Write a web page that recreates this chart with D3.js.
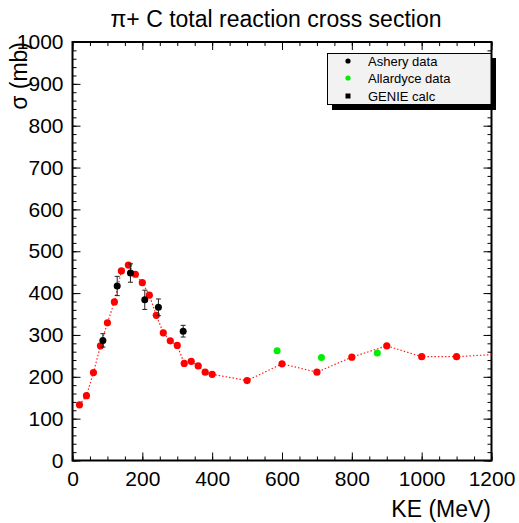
<!DOCTYPE html>
<html>
<head>
<meta charset="utf-8">
<script src="https://cdn.jsdelivr.net/npm/d3@7"></script>
<style>
  html, body { margin: 0; padding: 0; background: #fff; }
  svg { display: block; }
  text { font-family: "Liberation Sans", Arial, Helvetica, sans-serif; }
</style>
</head>
<body>
<svg id="chart" width="519" height="523"></svg>
<script>
// ---- data ----
const genieKE = [20, 40, 60, 80, 100, 120, 140, 160, 180, 200, 220, 240, 260, 280, 300, 320, 340, 360, 380, 400, 500, 600, 700, 800, 900, 1000, 1100, 1300];
const genieSigma = [133, 155, 210, 274, 329, 379, 453, 467, 445, 425, 395, 347, 305, 286, 275, 232, 237, 226, 211, 206, 191, 231, 211, 247, 274, 248, 248, 258];
const asheryKE = [87, 128, 166, 207, 246, 317];
const asherySigma = [287, 417, 448, 384, 366, 309];
const asheryErr = [16, 23, 22, 23, 20, 14];
const allardyceKE = [586, 713, 873];
const allardyceSigma = [262, 246, 257];
const xTicks = [0, 200, 400, 600, 800, 1000, 1200];
const yTicks = [0, 100, 200, 300, 400, 500, 600, 700, 800, 900, 1000];
const legendLabels = ["Ashery data", "Allardyce data", "GENIE calc"];
const titleText = "\u03c0+ C total reaction cross section";
const xTitle = "KE (MeV)";
const yTitle = "\u03c3 (mb)";

// ---- layout ----
const svg = d3.select("#chart");
const L = 72.5, R = 491.5, T = 42, B = 460.5;
const x = d3.scaleLinear().domain([0, 1200]).range([L, R]);
const y = d3.scaleLinear().domain([0, 1000]).range([B, T]);

svg.append("rect").attr("width", 519).attr("height", 523).attr("fill", "#fff");

svg.append("defs").append("clipPath").attr("id", "clip")
  .append("rect").attr("x", L).attr("y", T).attr("width", R - L).attr("height", B - T);

const fontTick = 21;

function styleAxis(g, hideLabels) {
  g.select(".domain").remove();
  g.selectAll(".tick line").attr("stroke", "#000").attr("stroke-width", 1);
  g.selectAll(".tick text").attr("fill", "#000").style("font-size", fontTick + "px");
  if (hideLabels) g.selectAll(".tick text").remove();
}

// minor ticks
const xMinor = d3.range(0, 1201, 50);
const yMinor = d3.range(0, 1001, 20);
svg.append("g").attr("transform", `translate(0,${B})`)
  .call(d3.axisBottom(x).tickValues(xMinor).tickSize(-4).tickSizeOuter(0))
  .call(g => styleAxis(g, true));
svg.append("g").attr("transform", `translate(0,${T})`)
  .call(d3.axisTop(x).tickValues(xMinor).tickSize(-4).tickSizeOuter(0))
  .call(g => styleAxis(g, true));
svg.append("g").attr("transform", `translate(${L},0)`)
  .call(d3.axisLeft(y).tickValues(yMinor).tickSize(-4).tickSizeOuter(0))
  .call(g => styleAxis(g, true));
svg.append("g").attr("transform", `translate(${R},0)`)
  .call(d3.axisRight(y).tickValues(yMinor).tickSize(-4).tickSizeOuter(0))
  .call(g => styleAxis(g, true));

// major ticks
svg.append("g").attr("transform", `translate(0,${B})`)
  .call(d3.axisBottom(x).tickValues(xTicks).tickSize(-8).tickSizeOuter(0).tickPadding(11).tickFormat(d3.format("d")))
  .call(g => styleAxis(g, false));
svg.append("g").attr("transform", `translate(0,${T})`)
  .call(d3.axisTop(x).tickValues(xTicks).tickSize(-8).tickSizeOuter(0))
  .call(g => styleAxis(g, true));
svg.append("g").attr("transform", `translate(${L},0)`)
  .call(d3.axisLeft(y).tickValues(yTicks).tickSize(-8).tickSizeOuter(0).tickPadding(9).tickFormat(d3.format("d")))
  .call(g => styleAxis(g, false));
svg.append("g").attr("transform", `translate(${R},0)`)
  .call(d3.axisRight(y).tickValues(yTicks).tickSize(-8).tickSizeOuter(0))
  .call(g => styleAxis(g, true));

// frame
svg.append("rect").attr("x", L).attr("y", T).attr("width", R - L).attr("height", B - T)
  .attr("fill", "none").attr("stroke", "#000").attr("stroke-width", 2);

// GENIE line + points
const plot = svg.append("g").attr("clip-path", "url(#clip)");
const genie = genieKE.map((k, i) => ({ k, s: genieSigma[i] }));
plot.append("path").datum(genie)
  .attr("d", d3.line().x(d => x(d.k)).y(d => y(d.s)))
  .attr("fill", "none").attr("stroke", "#ff2020").attr("stroke-width", 1.2)
  .attr("stroke-dasharray", "1.5,2");

// Ashery error bars
const ash = asheryKE.map((k, i) => ({ k, s: asherySigma[i], e: asheryErr[i] }));
const eb = svg.append("g").attr("stroke", "#222").attr("stroke-width", 1);
eb.selectAll("line.v").data(ash).join("line")
  .attr("x1", d => x(d.k)).attr("x2", d => x(d.k))
  .attr("y1", d => y(d.s + d.e)).attr("y2", d => y(d.s - d.e));
eb.selectAll("line.t").data(ash).join("line")
  .attr("x1", d => x(d.k) - 2.5).attr("x2", d => x(d.k) + 2.5)
  .attr("y1", d => y(d.s + d.e)).attr("y2", d => y(d.s + d.e));
eb.selectAll("line.b").data(ash).join("line")
  .attr("x1", d => x(d.k) - 2.5).attr("x2", d => x(d.k) + 2.5)
  .attr("y1", d => y(d.s - d.e)).attr("y2", d => y(d.s - d.e));

plot.selectAll("circle.genie").data(genie).join("circle")
  .attr("cx", d => x(d.k)).attr("cy", d => y(d.s)).attr("r", 3.6).attr("fill", "#ff0000");

svg.append("g").selectAll("circle").data(ash).join("circle")
  .attr("cx", d => x(d.k)).attr("cy", d => y(d.s)).attr("r", 3.5).attr("fill", "#000");

svg.append("g").selectAll("circle").data(allardyceKE.map((k, i) => ({ k, s: allardyceSigma[i] }))).join("circle")
  .attr("cx", d => x(d.k)).attr("cy", d => y(d.s)).attr("r", 3.5).attr("fill", "#00ee00");

// legend
const lg = svg.append("g");
lg.append("rect").attr("x", 332).attr("y", 58).attr("width", 164).attr("height", 52).attr("fill", "#000");
lg.append("rect").attr("x", 327.5).attr("y", 53.5).attr("width", 163.5).attr("height", 51)
  .attr("fill", "#f2f2f2").attr("stroke", "#000").attr("stroke-width", 1);
const rowsY = [61, 78, 96];
lg.append("circle").attr("cx", 348).attr("cy", rowsY[0]).attr("r", 2.6).attr("fill", "#000");
lg.append("circle").attr("cx", 348).attr("cy", rowsY[1]).attr("r", 2.6).attr("fill", "#00ee00");
lg.append("rect").attr("x", 345.5).attr("y", rowsY[2] - 2.5).attr("width", 5).attr("height", 5).attr("fill", "#000");
lg.selectAll("text").data(legendLabels).join("text")
  .attr("x", 368).attr("y", (d, i) => rowsY[i]).attr("dy", "0.35em")
  .style("font-size", "13px").attr("fill", "#000").text(d => d);

// titles
svg.append("text").attr("x", 276).attr("y", 27).attr("text-anchor", "middle")
  .style("font-size", "23px").attr("fill", "#000").text(titleText);
svg.append("text").attr("x", 491).attr("y", 517).attr("text-anchor", "end")
  .style("font-size", "23px").attr("fill", "#000").text(xTitle);
svg.append("text").attr("transform", "translate(27,42) rotate(-90)").attr("text-anchor", "end")
  .style("font-size", "23px").attr("fill", "#000").text(yTitle);
</script>
</body>
</html>
